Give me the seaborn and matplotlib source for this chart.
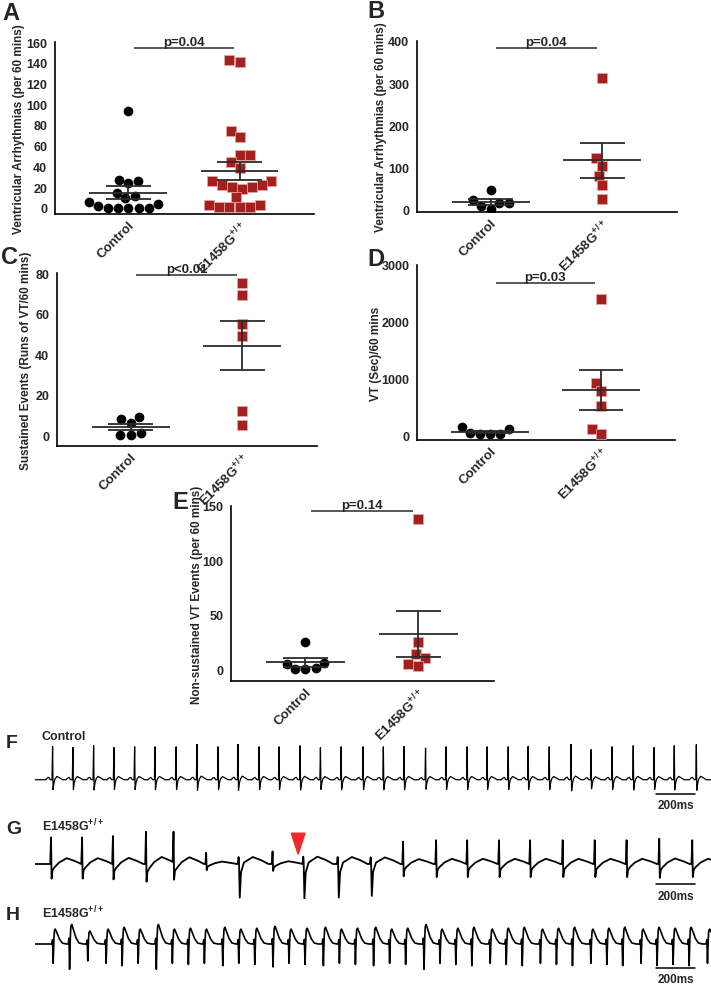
import numpy as np
import pandas as pd
import seaborn as sns
import matplotlib.pyplot as plt

# ---- scatter panels ----
groups = ["Control", "E1458G"]
xlabels = ["Control", r"E1458G$^{\mathregular{+/+}}$"]

a_ctrl = [93, 27, 24, 26, 14, 11, 9, 4, 0, 0, 0, 0, 0, 2, 6]
a_mut = [143, 141, 74, 68, 51, 51, 44, 38, 26, 22, 20, 18, 20, 22, 26, 10, 3, 1, 1, 1, 1, 3]
b_ctrl = [47, 23, 16, 17, 2, 9]
b_mut = [313, 123, 105, 80, 58, 25]
c_ctrl = [8, 9, 6, 1, 0, 0]
c_mut = [75, 69, 55, 49, 12, 5]
d_ctrl = [100, 20, 20, 20, 30, 150]
d_mut = [2400, 920, 770, 510, 100, 20]
e_ctrl = [25, 6, 5, 0, 1, 0]
e_mut = [138, 25, 14, 10, 3, 5]

# ---- ECG traces: beat times (ms), relative amplitudes, one-beat templates ----
f_beats = [90, 194, 300, 404, 510, 614, 722, 829, 937, 1039, 1147, 1249, 1357, 1461, 1567, 1679,
           1783, 1889, 1999, 2104, 2212, 2314, 2422, 2524, 2632, 2744, 2846, 2954, 3062, 3169, 3272, 3385]
f_amps = [0.95, 0.92, 0.97, 0.92, 0.94, 0.94, 0.94, 1.02, 0.94, 1.02, 0.94, 0.94, 0.97, 0.92, 0.94, 0.94,
          0.94, 0.95, 0.9, 0.94, 0.94, 0.94, 0.94, 0.95, 0.94, 1.05, 0.86, 0.94, 0.97, 0.92, 0.97, 1.0]
ctrl_shape_t = [-35, -28, -20, -12, -3, 0, 2.5, 6, 12, 22, 35, 50]
ctrl_shape_v = [0, 0.05, 0.07, 0.0, 0.0, 1.0, -0.3, -0.12, 0.02, 0.1, 0.06, 0]

g_beats = [82, 241, 399, 568, 709, 876, 1044, 1216, 1375, 1551, 1720, 1884, 2053, 2212, 2375, 2534,
           2701, 2865, 3028, 3195, 3364]
g_kind = ["n", "n", "n", "n", "n", "n", "p", "n", "p", "p", "p", "n", "n", "n", "n", "n",
          "n", "n", "n", "n", "n"]
g_amps = [0.95, 0.95, 1.0, 1.15, 1.1, 0.4, 1.0, 0.45, 1.05, 1.0, 0.95, 0.8, 0.85, 0.85, 0.85, 0.85,
          0.85, 0.85, 0.85, 0.9, 0.85]
g_norm_t = [-4, 0, 3, 7, 15, 40, 80, 120, 155]
g_norm_v = [0, 1.0, -0.55, -0.25, -0.15, 0.05, 0.22, 0.12, 0]
g_pvc_t = [-6, -2, 0, 4, 10, 25, 70, 110, 150]
g_pvc_v = [0, 0.25, 0.1, -1.2, -0.3, 0.05, 0.25, 0.15, 0]
arrow_ms = 1347

h_beats = [90, 174, 267, 361, 443, 525, 618, 700, 782, 864, 958, 1040, 1122, 1215, 1297, 1379, 1473,
           1555, 1637, 1730, 1812, 1894, 1988, 2070, 2151, 2233, 2327, 2409, 2491, 2584, 2666, 2748,
           2842, 2924, 3005, 3099, 3181, 3263, 3345, 3439]
h_amps = [0.8, 1.05, 0.7, 0.8, 0.9, 0.8, 1.05, 0.8, 0.85, 0.8, 0.9, 0.8, 0.85, 0.95, 0.8, 0.85, 0.9,
          0.8, 0.85, 0.9, 0.8, 0.85, 1.05, 0.8, 0.85, 0.9, 0.8, 0.85, 0.9, 0.8, 0.85, 0.9, 0.8, 0.85,
          0.9, 0.8, 0.9, 0.85, 0.9, 0.8]
h_shape_t = [-4, 0, 3, 6, 9, 14, 22, 34, 50, 70]
h_shape_v = [0, 0.25, -1.1, 0.1, 0.75, 0.85, 0.65, 0.3, 0.05, 0]

RED = "#A3201F"
LINE = "#2b2b2b"
W, H = 711, 987

sns.set_style("white")
plt.rcParams["font.family"] = ["Liberation Sans Narrow", "Liberation Sans", "DejaVu Sans"]
plt.rcParams["font.weight"] = "bold"
plt.rcParams["axes.labelweight"] = "bold"
plt.rcParams["mathtext.default"] = "regular"

fig = plt.figure(figsize=(W / 100, H / 100), dpi=100)


def px_axes(x0, y0, x1, y1):
    ax = fig.add_axes([x0 / W, 1 - y1 / H, (x1 - x0) / W, (y1 - y0) / H])
    ax.patch.set_alpha(0)
    return ax


def dot_panel(box, ctrl, mut, ylim, yticks, ylabel, ptext, pbar_y, lab_x):
    ax = px_axes(*box)
    df = pd.DataFrame({"group": ["Control"] * len(ctrl) + ["E1458G"] * len(mut),
                       "value": ctrl + mut})
    sns.swarmplot(data=df[df.group == "Control"], x="group", y="value", order=groups,
                  ax=ax, color="black", marker="o", size=7, zorder=3)
    sns.swarmplot(data=df[df.group == "E1458G"], x="group", y="value", order=groups,
                  ax=ax, color=RED, marker="s", size=6.6, linewidth=0.5,
                  edgecolor="#e6a9a9", zorder=3)
    for i, g in enumerate(groups):
        v = df.loc[df.group == g, "value"]
        m, se = v.mean(), v.std() / np.sqrt(len(v))
        ax.hlines(m, i - 0.35, i + 0.35, color=LINE, lw=1.3, zorder=5)
        ax.hlines([m - se, m + se], i - 0.2, i + 0.2, color=LINE, lw=1.3, zorder=5)
        ax.vlines(i, m - se, m + se, color=LINE, lw=1.3, zorder=5)
    ax.hlines(pbar_y, 0.05, 0.95, color=LINE, lw=1.1, clip_on=False)
    ax.text(0.5, pbar_y, ptext, ha="center", va="bottom", fontsize=9.5, fontweight="bold")
    ax.set_xlim(-0.66, 1.67)
    ax.set_ylim(*ylim)
    ax.set_yticks(yticks)
    ax.set_xticks([0, 1])
    ax.set_xticklabels(xlabels, rotation=45, ha="right", va="top", rotation_mode="anchor",
                       fontsize=9.5)
    ax.set_xlabel("")
    ax.set_ylabel(ylabel, fontsize=8.5)
    ax.yaxis.set_label_coords(lab_x, 0.5)
    sns.despine(ax=ax)
    for s in ("left", "bottom"):
        ax.spines[s].set_linewidth(1.2)
        ax.spines[s].set_color("black")
    ax.tick_params(axis="y", direction="out", length=4, width=1.1, labelsize=9, pad=1.5)
    ax.tick_params(axis="x", length=0, pad=3)
    return ax


dot_panel((55, 43, 314, 215), a_ctrl, a_mut, (-6, 160), range(0, 161, 20),
          "Ventricular Arrhythmias (per 60 mins)", "p=0.04", 154, -0.115)
dot_panel((417, 42, 677, 213), b_ctrl, b_mut, (-5, 400), range(0, 401, 100),
          "Ventricular Arrhythmias (per 60 mins)", "p=0.04", 383, -0.115)
dot_panel((57, 274, 317, 447), c_ctrl, c_mut, (-5.4, 80), range(0, 81, 20),
          "Sustained Events (Runs of VT/60 mins)", "p<0.01", 79, -0.096)
dot_panel((417, 266, 675, 441), d_ctrl, d_mut, (-88, 3000), range(0, 3001, 1000),
          "VT (Sec)/60 mins", "p=0.03", 2680, -0.136)
dot_panel((231, 507, 494, 682), e_ctrl, e_mut, (-11, 150), range(0, 151, 50),
          "Non-sustained VT Events (per 60 mins)", "p=0.14", 145, -0.106)

# ---- ECG traces ----
t = np.arange(0, 3460, 0.5)


def build(beats, amps, shapes):
    y = np.zeros_like(t)
    for bt, a, (st, sv) in zip(beats, amps, shapes):
        y += a * np.interp(t - bt, st, sv, left=0, right=0)
    return y


def trace_panel(box, y, ylim, bar_y, txt_y, lw):
    ax = px_axes(*box)
    sns.lineplot(x=t, y=y, ax=ax, color="black", linewidth=lw, estimator=None, sort=False)
    ax.set_xlim(0, 3460)
    ax.set_ylim(*ylim)
    ax.axis("off")
    ax.plot([3180, 3380], [bar_y, bar_y], color="black", lw=1.1, clip_on=False)
    ax.text(3280, txt_y, "200ms", ha="center", va="center", fontsize=8.5, fontweight="bold")
    return ax


f_y = build(f_beats, f_amps, [(ctrl_shape_t, ctrl_shape_v)] * len(f_beats))
g_shapes = [(g_norm_t, g_norm_v) if k == "n" else (g_pvc_t, g_pvc_v) for k in g_kind]
g_y = build(g_beats, g_amps, g_shapes)
h_y = build(h_beats, h_amps, [(h_shape_t, h_shape_v)] * len(h_beats))

trace_panel((35, 745, 711, 800), f_y, (-0.55, 1.02), -0.4, -0.72, 0.9)
axg = trace_panel((35, 830, 711, 900), g_y, (-1.25, 1.25), -0.72, -1.15, 1.3)
trace_panel((35, 910, 711, 980), h_y, (-1.6, 1.6), -1.1, -1.6, 1.2)
axg.fill([arrow_ms - 35, arrow_ms + 35, arrow_ms], [1.1, 1.1, 0.35], color="#ee2a2a",
         clip_on=False, zorder=5)

# ---- labels ----
for letter, x, y, fs in [("A", 2, 13, 17), ("B", 367, 12, 17), ("C", 1, 258, 17),
                         ("D", 367, 259, 17), ("E", 172, 503, 17), ("F", 6, 743, 14),
                         ("G", 6, 830, 14), ("H", 6, 916, 14)]:
    fig.text(x / W, 1 - y / H, letter, ha="left", va="center", fontsize=fs,
             fontweight="bold", family=["Liberation Sans", "DejaVu Sans"])
fig.text(42 / W, 1 - 737 / H, "Control", ha="left", va="center", fontsize=9, fontweight="bold")
fig.text(42 / W, 1 - 826 / H, r"E1458G$^{\mathregular{+/+}}$", ha="left", va="center",
         fontsize=9, fontweight="bold")
fig.text(42 / W, 1 - 913 / H, r"E1458G$^{\mathregular{+/+}}$", ha="left", va="center",
         fontsize=9, fontweight="bold")

fig.savefig("out.png", dpi=100)
